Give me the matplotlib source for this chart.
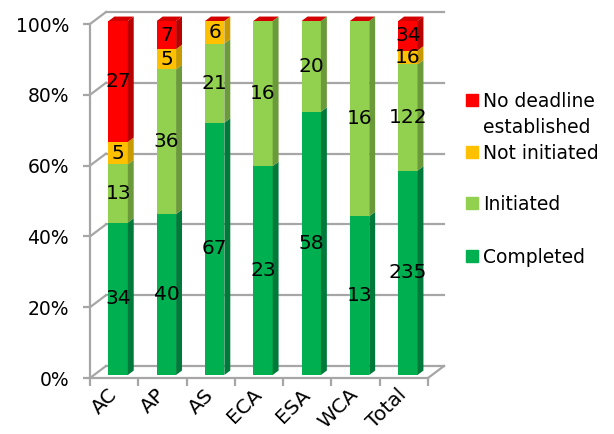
import numpy as np
import matplotlib
matplotlib.use("Agg")
import matplotlib.pyplot as plt
from matplotlib.patches import Polygon, Rectangle

# data
regions = ["AC", "AP", "AS", "ECA", "ESA", "WCA", "Total"]
completed = [34, 40, 67, 23, 58, 13, 235]
initiated = [13, 36, 21, 16, 20, 16, 122]
not_initiated = [5, 5, 6, 0, 0, 0, 16]
no_deadline = [27, 7, 0, 0, 0, 0, 34]

series = [
    ("Completed", completed, "#00B050", "#007A3A"),
    ("Initiated", initiated, "#92D050", "#6A9A3A"),
    ("Not initiated", not_initiated, "#FFC000", "#C89A00"),
    ("No deadline\nestablished", no_deadline, "#FF0000", "#B80000"),
]

W, H = 614, 434
fig = plt.figure(figsize=(W / 100, H / 100), dpi=100)
ax = fig.add_axes([90 / W, 56 / H, 338 / W, 354 / H])
ax.set_xlim(0, 7)
ax.set_ylim(0, 100)

grid_c = "#A6A6A6"
n = len(regions)
DX, DY = 16 / 48.29, 12 / 3.54      # wall depth in data units
f0, f1 = 0.25, 0.62                  # bar front / back depth
bw = 0.40

# walls
yt = np.arange(0, 101, 20)
for y in yt:
    ax.plot([DX, n + DX], [y + DY, y + DY], color=grid_c, lw=1.6, clip_on=False, zorder=1)
    ax.plot([0, DX], [y, y + DY], color=grid_c, lw=1.6, clip_on=False, zorder=1)
ax.plot([n, n + DX], [0, DY], color=grid_c, lw=1.6, clip_on=False, zorder=1)

# stacked 3d-ish bars
tot = np.array(completed) + np.array(initiated) + np.array(not_initiated) + np.array(no_deadline)
bottom = np.zeros(n)
x0 = np.arange(n) + 0.5 + f0 * DX
sx, sy = (f1 - f0) * DX, (f1 - f0) * DY
for name, vals, c, cs in series:
    pct = np.array(vals) / tot * 100
    ax.bar(x0, pct, bw, bottom=bottom + f0 * DY, color=c, zorder=3, clip_on=False)
    for i in range(n):
        if pct[i] <= 0:
            continue
        xr = x0[i] + bw / 2
        yb = bottom[i] + f0 * DY
        ax.add_patch(Polygon([(xr, yb), (xr, yb + pct[i]), (xr + sx, yb + pct[i] + sy), (xr + sx, yb + sy)],
                             closed=True, color=cs, zorder=3, clip_on=False, lw=0))
        ax.text(x0[i], yb + pct[i] / 2, str(vals[i]), ha="center", va="center",
                fontsize=14.5, zorder=5)
    bottom += pct

# top caps
for i in range(n):
    xl, xr = x0[i] - bw / 2, x0[i] + bw / 2
    yt_ = 100 + f0 * DY
    ax.add_patch(Polygon([(xl, yt_), (xr, yt_), (xr + sx, yt_ + sy), (xl + sx, yt_ + sy)],
                         closed=True, color="#D40000", zorder=3, clip_on=False, lw=0))

# axes
for s in ["top", "right"]:
    ax.spines[s].set_visible(False)
for s in ["left", "bottom"]:
    ax.spines[s].set_color(grid_c)
    ax.spines[s].set_linewidth(1.6)
ax.set_yticks(yt)
ax.set_yticklabels([f"{v}%" for v in yt], fontsize=13.5)
ax.tick_params(axis="y", length=5, width=1.6, color=grid_c, pad=10)
ax.set_xticks(np.arange(n + 1))
ax.set_xticklabels([])
ax.tick_params(axis="x", which="major", length=6, width=1.6, color=grid_c)
ax.set_xticks(np.arange(n) + 0.5, minor=True)
ax.set_xticklabels(regions, minor=True, fontsize=14.5, rotation=45, ha="right",
                   rotation_mode="anchor", va="center")
ax.tick_params(axis="x", which="minor", length=0, pad=10)

# legend
legend_y = [100, 152, 203, 256]
for (name, vals, c, cs), yy in zip(series[::-1], legend_y):
    fig.add_artist(Rectangle((466 / W, 1 - (yy + 6) / H), 12 / W, 12 / H, color=c,
                             transform=fig.transFigure))
    fig.text(483 / W, 1 - (yy + 7) / H, name.split("\n")[0], fontsize=13.5, va="baseline")
    if "\n" in name:
        fig.text(483 / W, 1 - (yy + 33) / H, name.split("\n")[1], fontsize=13.5, va="baseline")

fig.savefig("out.png", dpi=100)
